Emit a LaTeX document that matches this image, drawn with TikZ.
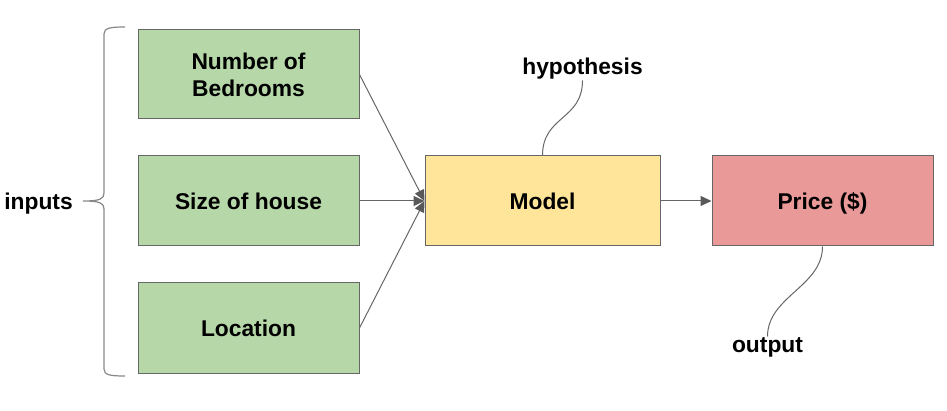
\documentclass[tikz,border=0pt]{standalone}
\usepackage{fontspec}
\setmainfont{Liberation Sans}
\usetikzlibrary{arrows.meta}
\definecolor{boxgreen}{HTML}{B6D7A8}
\definecolor{boxyellow}{HTML}{FFE599}
\definecolor{boxpink}{HTML}{EA9999}
\definecolor{edgegray}{HTML}{666666}
\definecolor{tipgray}{HTML}{595959}
\definecolor{bracegray}{HTML}{888888}
\tikzset{
  lbl/.style={font=\fontsize{22.8}{27}\selectfont\bfseries, text=black},
  blk/.style={lbl, draw=edgegray, line width=1pt, inner sep=0pt, align=center, minimum height=90pt},
  inbox/.style={blk, fill=boxgreen, minimum width=221pt},
  conn/.style={draw=edgegray, line width=1pt, -{Triangle[length=11pt,width=10pt,fill=tipgray,color=tipgray]}},
  curvy/.style={draw=edgegray, line width=1pt},
}
\begin{document}
\begin{tikzpicture}[x=1pt,y=-1pt]
\useasboundingbox (0,0) rectangle (947,411);
\node[inbox, minimum height=89pt] (b1) at (248.5,74.5) {Number of\\Bedrooms};
\node[inbox] (b2) at (248.5,201) {Size of house};
\node[inbox] (b3) at (248.5,328) {Location};
\node[blk, fill=boxyellow, minimum width=235pt] (model) at (542.5,201) {Model};
\node[blk, fill=boxpink, minimum width=221pt, text depth=0pt] (price) at (822.5,201) {Price (\$)};
\node[lbl, inner sep=1pt] (hyp) at (582.5,68.5) {hypothesis};
\node[lbl, inner sep=1pt] (out) at (767.5,347.5) {output};
\node[lbl, inner sep=0pt, text depth=0pt] (inp) at (38.5,201) {inputs};
\draw[conn] (b1.east) -- (model.west);
\draw[conn] (b2.east) -- (model.west);
\draw[conn] (b3.east) -- (model.west);
\draw[conn] (model.east) -- (price.west);
\draw[curvy] (model.north) .. controls +(0,-40) and +(0,40) .. (hyp.south);
\draw[curvy] (price.south) .. controls +(0,40) and +(0,-40) .. (out.north);
\coordinate (bt) at (125,27);
\coordinate (bb) at (125,376);
\coordinate (tip) at (83,201);
\draw[bracegray, line width=1.2pt] (bt) .. controls (110,27) and (104,28) .. (104,34)
  -- (104,193) .. controls (104,199) and (100,201) .. (tip)
  (tip) .. controls (100,201) and (104,203) .. (104,209)
  -- (104,369) .. controls (104,375) and (110,376) .. (bb);
\end{tikzpicture}
\end{document}
